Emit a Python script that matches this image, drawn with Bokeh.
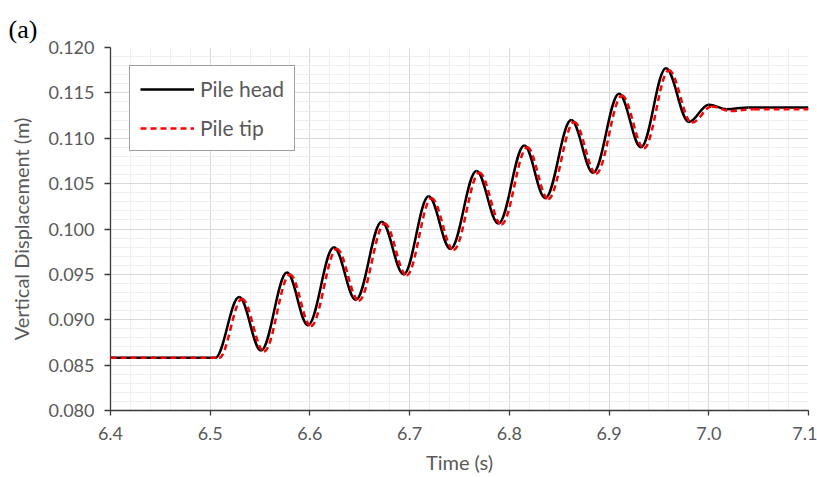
from bokeh.plotting import figure
from bokeh.models import (Range1d, FixedTicker, PrintfTickFormatter, Legend,
                          LegendItem, ColumnDataSource, Title)
from bokeh.embed import file_html
from bokeh.resources import INLINE
import numpy as np

# ---- data (turning points of each curve) ----
head_t = [6.400, 6.505, 6.529, 6.551, 6.577, 6.598, 6.624, 6.646, 6.672, 6.694,
          6.719, 6.741, 6.767, 6.789, 6.815, 6.836, 6.862, 6.884, 6.910, 6.932,
          6.957, 6.980, 7.000, 7.018, 7.040, 7.100]
head_v = [0.0858, 0.0858, 0.0925, 0.0866, 0.0952, 0.0894, 0.0980, 0.0922, 0.1008, 0.0950,
          0.1036, 0.0978, 0.1064, 0.1006, 0.1092, 0.1034, 0.1120, 0.1062, 0.1149, 0.1090,
          0.1177, 0.1118, 0.1137, 0.1132, 0.1134, 0.1134]

tip_t = [6.400, 6.509, 6.532, 6.554, 6.580, 6.601, 6.627, 6.649, 6.675, 6.697,
         6.722, 6.744, 6.770, 6.792, 6.818, 6.839, 6.865, 6.887, 6.913, 6.935,
         6.960, 6.983, 7.003, 7.022, 7.045, 7.100]
tip_v = [0.0858, 0.0858, 0.0923, 0.0865, 0.0950, 0.0893, 0.0978, 0.0921, 0.1006, 0.0949,
         0.1034, 0.0977, 0.1062, 0.1005, 0.1090, 0.1033, 0.1118, 0.1061, 0.1147, 0.1089,
         0.1175, 0.1117, 0.1135, 0.1130, 0.1132, 0.1132]

x_ticks = [6.4, 6.5, 6.6, 6.7, 6.8, 6.9, 7.0, 7.1]
y_ticks = [0.080, 0.085, 0.090, 0.095, 0.100, 0.105, 0.110, 0.115, 0.120]
series_names = ["Pile head", "Pile tip"]

GRAY = "#595959"
FONT = "Lato"


def bezier_source(ts, vs, k=0.364):
    t = np.asarray(ts)
    v = np.asarray(vs)
    dt = t[1:] - t[:-1]
    return ColumnDataSource(dict(
        x0=t[:-1], y0=v[:-1], x1=t[1:], y1=v[1:],
        cx0=t[:-1] + k * dt, cy0=v[:-1],
        cx1=t[1:] - k * dt, cy1=v[1:]))


p = figure(width=817, height=477, output_backend="svg", toolbar_location=None,
           x_range=Range1d(6.4, 7.1), y_range=Range1d(0.080, 0.120),
           min_border_left=110, min_border_right=9, min_border_top=47,
           min_border_bottom=67)
p.outline_line_color = None
p.background_fill_color = "white"
p.border_fill_color = "white"

# ticks & grid
x_minor = list(np.round(np.arange(6.4, 7.1001, 0.02), 3))
y_minor = list(np.round(np.arange(0.080, 0.12001, 0.001), 4))
p.xaxis.ticker = FixedTicker(ticks=x_ticks, minor_ticks=x_minor)
p.yaxis.ticker = FixedTicker(ticks=y_ticks, minor_ticks=y_minor)
p.xaxis.formatter = PrintfTickFormatter(format="%.1f")
p.yaxis.formatter = PrintfTickFormatter(format="%.3f")

for g in (p.xgrid, p.ygrid):
    g.grid_line_color = "#d9d9d9"
    g.grid_line_width = 1
    g.minor_grid_line_color = "#efefef"
    g.minor_grid_line_width = 1

for ax in (p.xaxis, p.yaxis):
    ax.axis_line_color = "#3a3a3a"
    ax.axis_line_width = 1.3
    ax.major_tick_line_color = "#3a3a3a"
    ax.major_tick_line_width = 1.3
    ax.major_tick_in = 0
    ax.major_tick_out = 6
    ax.minor_tick_in = 0
    ax.minor_tick_out = 0
    ax.major_label_text_font = FONT
    ax.major_label_text_font_size = "18px"
    ax.major_label_text_color = GRAY
    ax.axis_label_text_font = FONT
    ax.axis_label_text_font_size = "20px"
    ax.axis_label_text_font_style = "normal"
    ax.axis_label_text_color = GRAY

p.xaxis.axis_label = "Time (s)"
p.yaxis.axis_label = "Vertical Displacement (m)"
p.xaxis.major_tick_out = 5
p.xaxis.major_label_standoff = 11
p.yaxis.major_label_standoff = 10
p.xaxis.axis_label_standoff = 7
p.yaxis.axis_label_standoff = 12

# curves
r_head = p.bezier(x0="x0", y0="y0", x1="x1", y1="y1", cx0="cx0", cy0="cy0",
                  cx1="cx1", cy1="cy1", source=bezier_source(head_t, head_v),
                  line_color="black", line_width=2.5)
r_tip = p.bezier(x0="x0", y0="y0", x1="x1", y1="y1", cx0="cx0", cy0="cy0",
                 cx1="cx1", cy1="cy1", source=bezier_source(tip_t, tip_v),
                 line_color="#ff0000", line_width=2.5, line_dash="6 4")

legend = Legend(items=[LegendItem(label=series_names[0], renderers=[r_head]),
                       LegendItem(label=series_names[1], renderers=[r_tip])],
                location=(19, 259))
legend.background_fill_color = "white"
legend.background_fill_alpha = 1
legend.border_line_color = "#404040"
legend.border_line_width = 1.6
legend.label_text_font = FONT
legend.label_text_font_size = "21px"
legend.label_text_color = GRAY
legend.glyph_width = 54
legend.glyph_height = 20
legend.label_height = 20
legend.label_standoff = 6
legend.spacing = 14
legend.padding = 10
legend.margin = 0
p.add_layout(legend)

t = Title(text="(a)", text_font="Liberation Serif", text_font_size="26px",
          text_font_style="normal", text_color="black", align="left",
          vertical_align="top", offset=-102, standoff=4)
p.add_layout(t, "above")

open("out.html", "w").write(file_html(p, INLINE))
